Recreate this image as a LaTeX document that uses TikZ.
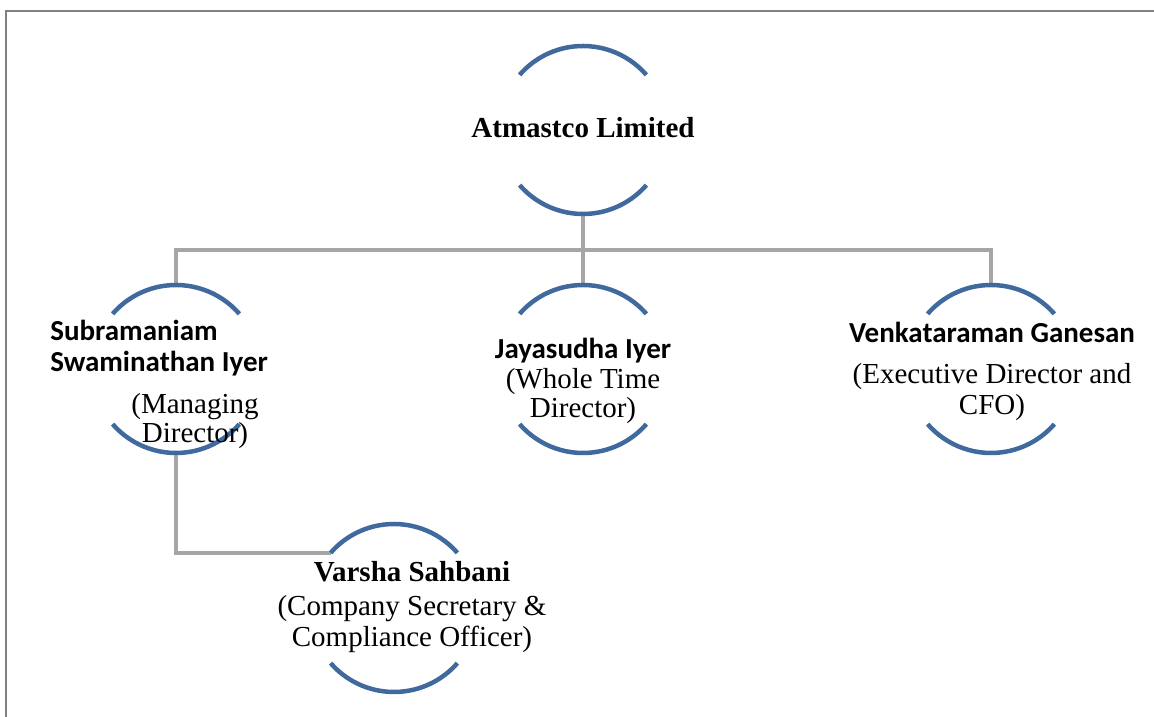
\documentclass[tikz,border=0pt]{standalone}
\usepackage{fontspec}
\setmainfont{Liberation Serif}
\newfontfamily\calibri{Carlito}
\usetikzlibrary{calc,positioning}
\definecolor{ringblue}{RGB}{64,106,158}
\definecolor{linkgray}{RGB}{166,166,166}
\definecolor{framegray}{RGB}{128,128,128}

\begin{document}
\begin{tikzpicture}[x=0.2mm,y=0.2mm,
  holder/.style={circle,minimum size=33.6mm,inner sep=0pt,outer sep=0pt},
  ring/.style={ringblue,line width=0.9mm},
  link/.style={linkgray,line width=0.9mm},
  stafftext/.style={font=\fontsize{16.5}{17}\selectfont,inner sep=0pt,anchor=base,align=center}]
\useasboundingbox (0,0) rectangle (1154,717);
% frame
\draw[framegray,line width=0.4mm] (6,0) -- (6,706) -- (1154,706);

% circle holders
\node[holder] (top) at (583,587) {};
\node[holder] (smi) at (176,348) {};
\node[holder] (jay) at (583,348) {};
\node[holder] (ven) at (991,348) {};
\node[holder] (var) at (394,109) {};

% links
\draw[link] (top.south) -- (jay.north);
\draw[link] (smi.north) -- ++(0,35) -| (ven.north);
\draw[link] (smi.south) |- (var.139);

% rings
\foreach \n in {top,smi,jay,ven,var}{
  \draw[ring] (\n.41) arc (41:139:84);
  \draw[ring] (\n.221) arc (221:319:84);
}

% texts (base = last line)
\node[stafftext] (toptext) at (583,579) {\bfseries Atmastco Limited};
\node[stafftext,anchor=base west,align=left] (smitext) at (50,345)
  {{\calibri\bfseries Subramaniam}\\[1.2pt]{\calibri\bfseries Swaminathan Iyer}};
\node[stafftext] (smirole) at (195,274) {(Managing\\Director)};
\node[stafftext] (jaytext) at (583,299)
  {{\calibri\bfseries Jayasudha Iyer}\\(Whole Time\\Director)};
\node[stafftext] (ventext) at (992,302)
  {{\calibri\bfseries Venkataraman Ganesan}\\[6.3pt](Executive Director and\\[1.2pt]CFO)};
\node[stafftext] (vartext) at (412,70)
  {{\bfseries Varsha Sahbani}\\[1.8pt](Company Secretary \&\\[1.2pt]Compliance Officer)};
\end{tikzpicture}
\end{document}
